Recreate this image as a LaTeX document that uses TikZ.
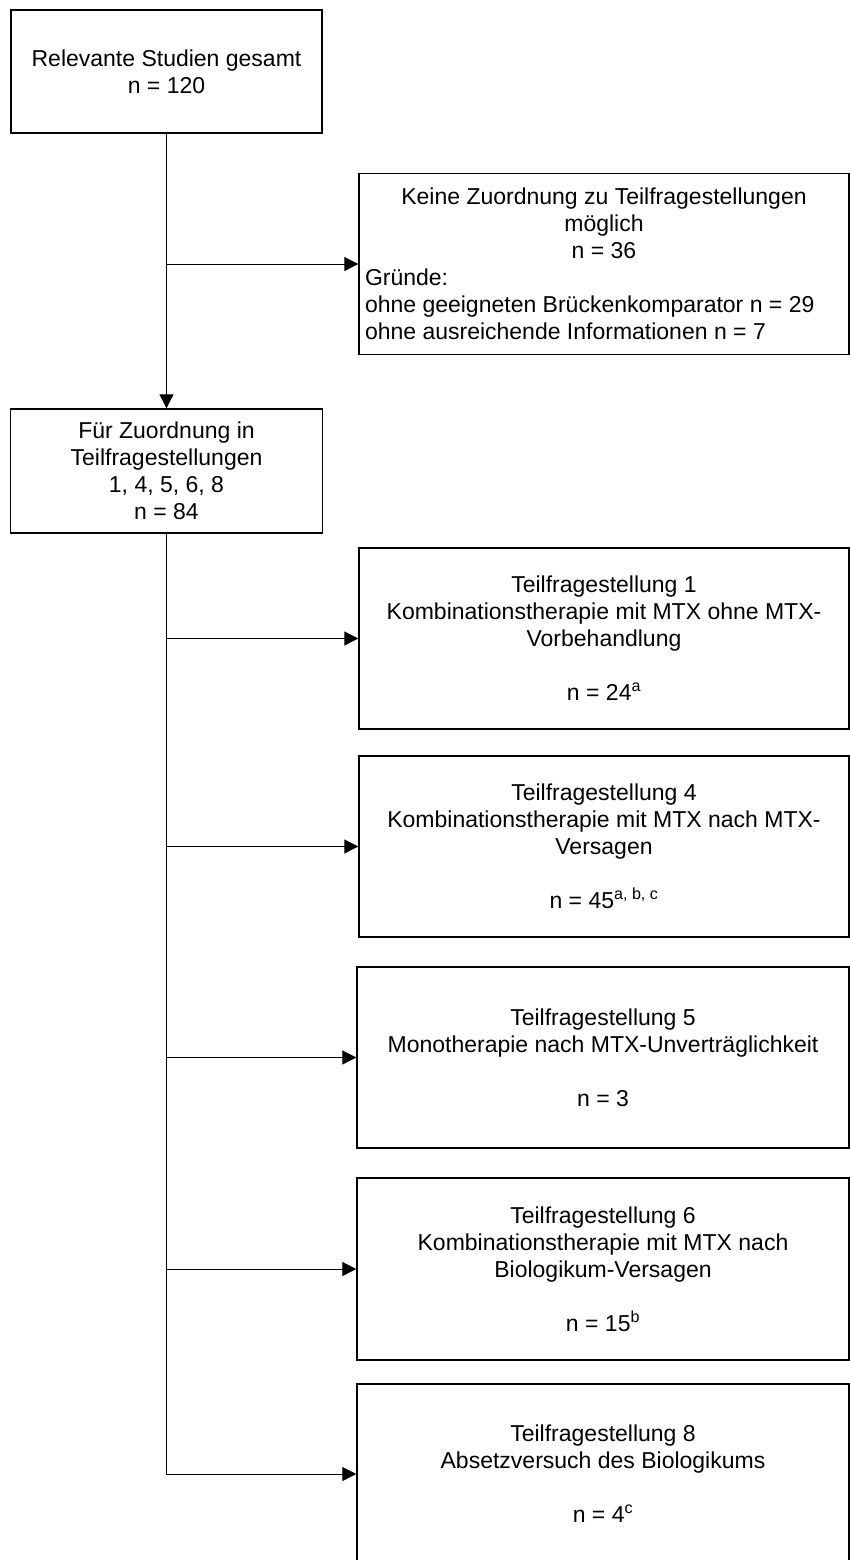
\documentclass[tikz,border=0pt]{standalone}
\usepackage{fontspec}
\setmainfont{Liberation Sans}
\usetikzlibrary{arrows.meta}
\begin{document}
\begin{tikzpicture}[x=1pt,y=-1pt,
  box/.style={draw, line width=1.4pt, rectangle, inner sep=0pt, align=center,
    font=\fontsize{23}{27}\selectfont},
  conn/.style={line width=1pt, -{Triangle[length=14pt,width=14pt]}},
  plain/.style={line width=1pt}]
\useasboundingbox (0,0) rectangle (850,1560);
\node[box, minimum width=311pt, minimum height=123pt] (total) at (166.5,71.5)
  {Relevante Studien gesamt\\n = 120};
\node[box, minimum width=490pt, minimum height=181pt] (none) at (604,264)
  {\begin{minipage}{478pt}\centering Keine Zuordnung zu Teilfragestellungen\\ möglich\\ n = 36\par
   \raggedright Gründe:\\ ohne geeigneten Brückenkomparator n = 29\\ ohne ausreichende Informationen n = 7\end{minipage}};
\node[box, minimum width=312pt, minimum height=124pt] (fuer) at (166.5,471)
  {Für Zuordnung in\\Teilfragestellungen\\1, 4, 5, 6, 8\\n = 84};
\node[box, minimum width=490pt, minimum height=181pt] (t1) at (604,638.5)
  {Teilfragestellung 1\\Kombinationstherapie mit MTX ohne MTX-\\Vorbehandlung\\[27pt]n = 24\textsuperscript{a}};
\node[box, minimum width=490pt, minimum height=181pt] (t4) at (604,846.5)
  {Teilfragestellung 4\\Kombinationstherapie mit MTX nach MTX-\\Versagen\\[27pt]n = 45\textsuperscript{a, b, c}};
\node[box, minimum width=492pt, minimum height=181pt] (t5) at (603,1057.5)
  {Teilfragestellung 5\\Monotherapie nach MTX-Unverträglichkeit\\[27pt]n = 3};
\node[box, minimum width=492pt, minimum height=182pt] (t6) at (603,1269)
  {Teilfragestellung 6\\Kombinationstherapie mit MTX nach\\Biologikum-Versagen\\[27pt]n = 15\textsuperscript{b}};
\node[box, minimum width=492pt, minimum height=180pt] (t8) at (603,1474)
  {Teilfragestellung 8\\Absetzversuch des Biologikums\\[27pt]n = 4\textsuperscript{c}};
\coordinate (j0) at (total.south |- none.west);
\coordinate (j1) at (fuer.south |- t1.west);
\coordinate (j4) at (fuer.south |- t4.west);
\coordinate (j5) at (fuer.south |- t5.west);
\coordinate (j6) at (fuer.south |- t6.west);
\draw[conn] (total.south) -- (fuer.north);
\draw[conn] (j0) -- (none.west);
\draw[conn] (fuer.south) |- (t8.west);
\draw[conn] (j1) -- (t1.west);
\draw[conn] (j4) -- (t4.west);
\draw[conn] (j5) -- (t5.west);
\draw[conn] (j6) -- (t6.west);
\end{tikzpicture}
\end{document}
